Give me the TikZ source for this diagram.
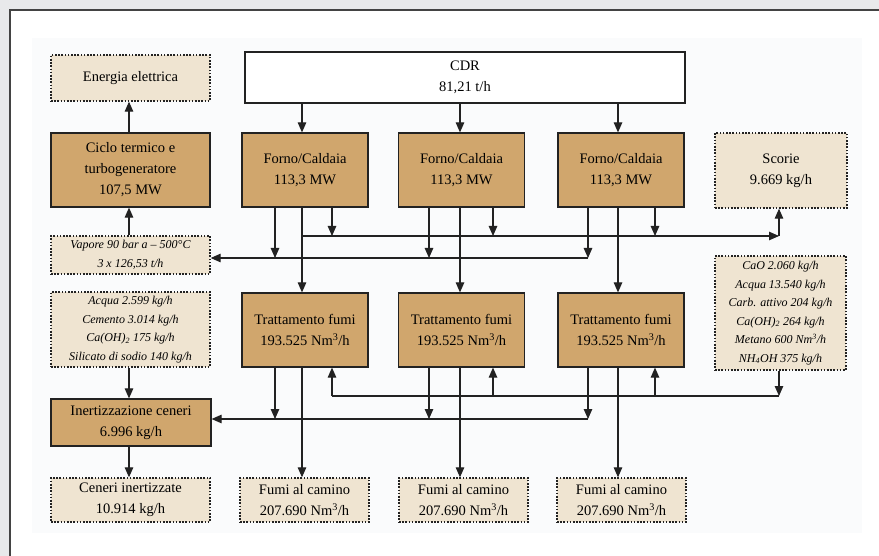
\documentclass[tikz,border=0pt]{standalone}
\usepackage{fontspec}
\setmainfont{Liberation Serif}
\usetikzlibrary{arrows.meta}
\definecolor{panelgray}{HTML}{E8E9EB}
\definecolor{panelfaint}{HTML}{FAFBFC}
\definecolor{boxbrown}{HTML}{D0A66D}
\definecolor{boxbeige}{HTML}{EFE4D1}
\definecolor{ink}{HTML}{222222}
\begin{document}
\begin{tikzpicture}[x=1pt,y=-1pt,
  solidbox/.style={draw=ink, line width=1.2pt, fill=boxbrown, inner sep=0pt,
    align=center, font=\fontsize{14.5}{21}\selectfont},
  dotbox/.style={draw=ink, line width=1.3pt, dash pattern=on 1.6pt off 1.6pt, fill=boxbeige,
    inner sep=0pt, align=center, font=\fontsize{14.5}{21}\selectfont},
  smalltext/.style={font=\fontsize{12}{18.5}\selectfont\itshape},
  flow/.style={draw=ink, line width=1.1pt, -{Triangle[length=10pt,width=8.5pt]}},
  link/.style={draw=ink, line width=1.1pt},
]
% page, panel and frame
\useasboundingbox (0,0) rectangle (879,556);
\fill[panelgray] (0,0) rectangle (879,556);
\fill[white] (10,10) rectangle (879,556);
\draw[ink!85, line width=1.2pt] (10,556) -- (10,10) -- (879,10);
\fill[panelfaint] (32,38) rectangle (862,533);

% boxes
\node[dotbox, minimum width=159pt, minimum height=46pt] (en) at (130.5,78) {Energia elettrica};
\node[draw=ink, line width=1.2pt, fill=white, inner sep=0pt, align=center,
  font=\fontsize{14.5}{21}\selectfont, minimum width=440pt, minimum height=51pt] (cdr) at (465,77.5) {CDR\\81,21 t/h};
\node[solidbox, minimum width=159pt, minimum height=74pt] (ciclo) at (130.5,170) {Ciclo termico e\\turbogeneratore\\107,5 MW};
\node[solidbox, minimum width=126pt, minimum height=74pt] (f1) at (305,170) {Forno/Caldaia\\113,3 MW};
\node[solidbox, minimum width=126pt, minimum height=74pt] (f2) at (461.5,170) {Forno/Caldaia\\113,3 MW};
\node[solidbox, minimum width=126pt, minimum height=74pt] (f3) at (621,170) {Forno/Caldaia\\113,3 MW};
\node[dotbox, minimum width=132pt, minimum height=75pt] (sc) at (781,170.5) {Scorie\\9.669 kg/h};
\node[dotbox, smalltext, minimum width=159pt, minimum height=38pt] (vap) at (130.5,255) {Vapore 90 bar a -- 500°C\\3 x 126,53 t/h};
\node[dotbox, smalltext, minimum width=159pt, minimum height=75pt] (acq) at (130.5,329.5)
  {Acqua 2.599 kg/h\\Cemento 3.014 kg/h\\Ca(OH)\textsubscript{2} 175 kg/h\\Silicato di sodio 140 kg/h};
\node[solidbox, minimum width=126pt, minimum height=74pt] (t1) at (305,330) {Trattamento fumi\\193.525 Nm\textsuperscript{3}/h};
\node[solidbox, minimum width=126pt, minimum height=74pt] (t2) at (461.5,330) {Trattamento fumi\\193.525 Nm\textsuperscript{3}/h};
\node[solidbox, minimum width=126pt, minimum height=74pt] (t3) at (621,330) {Trattamento fumi\\193.525 Nm\textsuperscript{3}/h};
\node[dotbox, smalltext, minimum width=131pt, minimum height=114pt] (cao) at (780.5,313)
  {CaO 2.060 kg/h\\Acqua 13.540 kg/h\\Carb. attivo 204 kg/h\\Ca(OH)\textsubscript{2} 264 kg/h\\Metano 600 Nm\textsuperscript{3}/h\\NH\textsubscript{4}OH 375 kg/h};
\node[solidbox, minimum width=160pt, minimum height=47pt] (in) at (131,422.5) {Inertizzazione ceneri\\6.996 kg/h};
\node[dotbox, minimum width=159pt, minimum height=44pt] (cen) at (130.5,500) {Ceneri inertizzate\\10.914 kg/h};
\node[dotbox, minimum width=129pt, minimum height=44pt] (fu1) at (304.5,500) {Fumi al camino\\207.690 Nm\textsuperscript{3}/h};
\node[dotbox, minimum width=129pt, minimum height=44pt] (fu2) at (463.5,500) {Fumi al camino\\207.690 Nm\textsuperscript{3}/h};
\node[dotbox, minimum width=129pt, minimum height=44pt] (fu3) at (621.5,500) {Fumi al camino\\207.690 Nm\textsuperscript{3}/h};

% line positions: columns and buses
\coordinate (M) at (129,0);
\coordinate (L1) at (275,0); \coordinate (C1) at (302,0); \coordinate (R1) at (332,0);
\coordinate (L2) at (429,0); \coordinate (C2) at (460,0); \coordinate (R2) at (493,0);
\coordinate (L3) at (588,0); \coordinate (C3) at (618,0); \coordinate (R3) at (655,0);
\coordinate (K) at (779,0);
\coordinate (yS) at (0,236);
\coordinate (yV) at (0,258);
\coordinate (yR) at (0,396);
\coordinate (yI) at (0,419);

% left column
\draw[flow] (ciclo.north -| M) -- (en.south -| M);
\draw[flow] (vap.north -| M) -- (ciclo.south -| M);
\draw[flow] (acq.south -| M) -- (in.north -| M);
\draw[flow] (in.south -| M) -- (cen.north -| M);

% fuel feed
\draw[flow] (cdr.south -| C1) -- (f1.north -| C1);
\draw[flow] (cdr.south -| C2) -- (f2.north -| C2);
\draw[flow] (cdr.south -| C3) -- (f3.north -| C3);

% slag collector
\draw[flow] (f1.south -| R1) -- (R1 |- yS);
\draw[flow] (f2.south -| R2) -- (R2 |- yS);
\draw[flow] (f3.south -| R3) -- (R3 |- yS);
\draw[flow] (C1 |- yS) -- (K |- yS);
\draw[flow] (K |- yS) -- (sc.south -| K);

% steam collector
\draw[flow] (f1.south -| L1) -- (L1 |- yV);
\draw[flow] (f2.south -| L2) -- (L2 |- yV);
\draw[flow] (f3.south -| L3) -- (L3 |- yV);
\draw[flow] (L3 |- yV) -- (vap.east |- yV);

% flue gas path
\draw[flow] (f1.south -| C1) -- (t1.north -| C1);
\draw[flow] (f2.south -| C2) -- (t2.north -| C2);
\draw[flow] (f3.south -| C3) -- (t3.north -| C3);
\draw[flow] (t1.south -| C1) -- (fu1.north -| C1);
\draw[flow] (t2.south -| C2) -- (fu2.north -| C2);
\draw[flow] (t3.south -| C3) -- (fu3.north -| C3);

% reagents distribution
\draw[flow] (cao.south -| K) -- (K |- yR);
\draw[link] (R1 |- yR) -- (K |- yR);
\draw[flow] (R1 |- yR) -- (t1.south -| R1);
\draw[flow] (R2 |- yR) -- (t2.south -| R2);
\draw[flow] (R3 |- yR) -- (t3.south -| R3);

% ash collector
\draw[flow] (t1.south -| L1) -- (L1 |- yI);
\draw[flow] (t2.south -| L2) -- (L2 |- yI);
\draw[flow] (t3.south -| L3) -- (L3 |- yI);
\draw[flow] (L3 |- yI) -- (in.east |- yI);
\end{tikzpicture}
\end{document}
